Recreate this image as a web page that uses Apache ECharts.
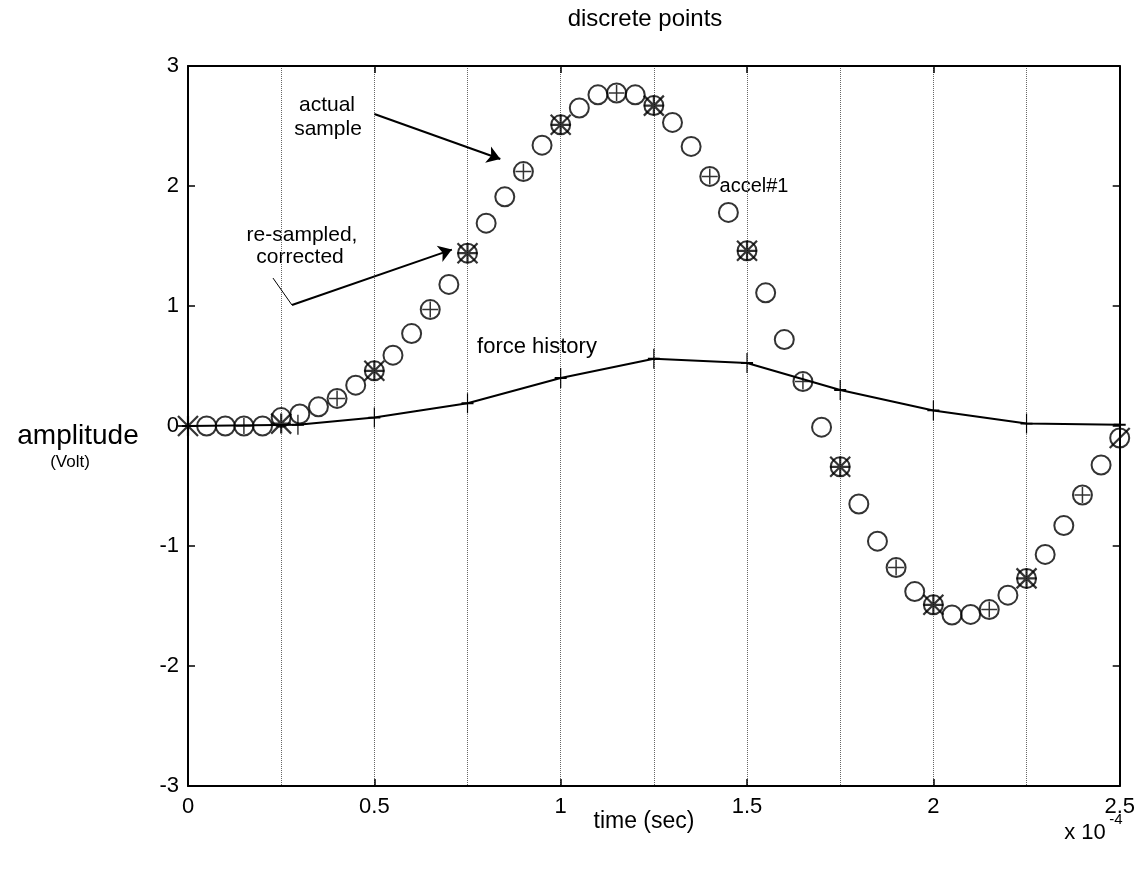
<!DOCTYPE html>
<html>
<head>
<meta charset="utf-8">
<script src="https://cdn.jsdelivr.net/npm/echarts@6/dist/echarts.min.js"></script>
<style>
  html, body { margin: 0; padding: 0; background: #fff; }
  #chart { width: 1138px; height: 873px; }
</style>
</head>
<body>
<div id="chart"></div>
<script>
// 时间单位: x 10^-4 s
const accelTime = [0.05, 0.10, 0.15, 0.20, 0.25, 0.30, 0.35, 0.40, 0.45, 0.50,
                   0.55, 0.60, 0.65, 0.70, 0.75, 0.80, 0.85, 0.90, 0.95, 1.00,
                   1.05, 1.10, 1.15, 1.20, 1.25, 1.30, 1.35, 1.40, 1.45, 1.50,
                   1.55, 1.60, 1.65, 1.70, 1.75, 1.80, 1.85, 1.90, 1.95, 2.00,
                   2.05, 2.10, 2.15, 2.20, 2.25, 2.30, 2.35, 2.40, 2.45, 2.50];
const accelValue = [0.00, 0.00, 0.00, 0.00, 0.07, 0.10, 0.16, 0.23, 0.34, 0.46,
                    0.59, 0.77, 0.97, 1.18, 1.44, 1.69, 1.91, 2.12, 2.34, 2.51,
                    2.65, 2.76, 2.775, 2.76, 2.67, 2.53, 2.33, 2.08, 1.78, 1.46,
                    1.11, 0.72, 0.37, -0.01, -0.34, -0.65, -0.96, -1.18, -1.38, -1.49,
                    -1.575, -1.57, -1.53, -1.41, -1.27, -1.07, -0.83, -0.575, -0.325, -0.10];

const actualTime = [0.15, 0.40, 0.65, 0.90, 1.15, 1.40, 1.65, 1.90, 2.15, 2.40];
const actualValue = [0.00, 0.23, 0.97, 2.12, 2.775, 2.08, 0.37, -1.18, -1.53, -0.575];

const resampTime = [0, 0.25, 0.50, 0.75, 1.00, 1.25, 1.50, 1.75, 2.00, 2.25, 2.50];
const resampValue = [0, 0.02, 0.46, 1.44, 2.51, 2.67, 1.46, -0.34, -1.49, -1.27, -0.10];

const forceTime = [0, 0.295, 0.50, 0.75, 1.00, 1.25, 1.50, 1.75, 2.00, 2.25, 2.50];
const forceValue = [0, 0.01, 0.07, 0.19, 0.40, 0.56, 0.525, 0.30, 0.13, 0.02, 0.01];

const xTicks = { min: 0, max: 2.5, step: 0.5 };
const yTicks = { min: -3, max: 3, step: 1 };

const zip = (xs, ys) => xs.map((x, i) => [x, ys[i]]);

const PLUS = 'path://M10,0 L10,20 M0,10 L20,10';
const STAR = 'path://M0,0 L20,20 M20,0 L0,20 M10,0 L10,20 M0,10 L20,10';
const SLASH = 'path://M20,0 L0,20';
const FONT = '"Liberation Sans", Arial, sans-serif';

const chart = echarts.init(document.getElementById('chart'));

const baseAxis = {
    axisLine: { show: true, onZero: false, lineStyle: { color: '#000', width: 2 } },
    axisTick: { show: true, inside: true, length: 7, lineStyle: { color: '#000', width: 1.5 } },
    splitLine: { show: false }
};

// 文字标注: 以中心点定位
function label(text, x, y, size, extra) {
    return {
        type: 'text', x: x, y: y, silent: true,
        style: Object.assign({
            text: text, fontSize: size, fontFamily: FONT, fill: '#000',
            align: 'center', verticalAlign: 'middle'
        }, extra || {})
    };
}

const resampData = zip(resampTime, resampValue).map((p, i, arr) =>
    i === arr.length - 1 ? { value: p, symbol: SLASH } : p);

chart.setOption({
    backgroundColor: '#fff',
    animation: false,
    grid: { left: 188, right: 17, top: 66, bottom: 87, containLabel: false },
    xAxis: [
        Object.assign({}, baseAxis, {
            type: 'value', position: 'bottom', min: xTicks.min, max: xTicks.max, interval: xTicks.step,
            axisLabel: { color: '#000', fontSize: 22, fontFamily: FONT, margin: 10 },
            splitLine: { show: true, lineStyle: { color: '#666', type: 'dotted', width: 1 } },
            minorTick: { show: false, splitNumber: 2 },
            minorSplitLine: { show: true, lineStyle: { color: '#666', type: 'dotted', width: 1 } }
        }),
        Object.assign({}, baseAxis, {
            type: 'value', position: 'top', min: xTicks.min, max: xTicks.max, interval: xTicks.step,
            axisLabel: { show: false }
        })
    ],
    yAxis: [
        Object.assign({}, baseAxis, {
            type: 'value', position: 'left', min: yTicks.min, max: yTicks.max, interval: yTicks.step,
            axisLabel: { color: '#000', fontSize: 22, fontFamily: FONT, margin: 9 }
        }),
        Object.assign({}, baseAxis, {
            type: 'value', position: 'right', min: yTicks.min, max: yTicks.max, interval: yTicks.step,
            axisLabel: { show: false }
        })
    ],
    series: [
        {
            name: 'force history', type: 'line', data: zip(forceTime, forceValue),
            symbol: PLUS, symbolSize: [12, 20], showSymbol: true,
            lineStyle: { color: '#000', width: 2 },
            itemStyle: { color: 'none', borderColor: '#000', borderWidth: 1.5 },
            markLine: {
                silent: true, symbol: ['none', 'arrow'], symbolSize: 13,
                label: { show: false },
                lineStyle: { color: '#000', width: 2, type: 'solid' },
                data: [
                    [{ coord: [0.50, 2.60] }, { coord: [0.838, 2.225] }],
                    [{ coord: [0.279, 1.008] }, { coord: [0.708, 1.47] }],
                    [{ coord: [0.228, 1.233], symbol: 'none', lineStyle: { width: 1 } },
                     { coord: [0.279, 1.008], symbol: 'none' }]
                ]
            },
            z: 3
        },
        {
            name: 'accel#1', type: 'scatter', data: zip(accelTime, accelValue),
            symbol: 'circle', symbolSize: 19,
            itemStyle: { color: 'transparent', borderColor: '#000', borderWidth: 2 },
            z: 4
        },
        {
            name: 'actual sample', type: 'scatter', data: zip(actualTime, actualValue),
            symbol: PLUS, symbolSize: 16,
            itemStyle: { color: 'none', borderColor: '#000', borderWidth: 1.5 },
            z: 5
        },
        {
            name: 're-sampled, corrected', type: 'scatter', data: resampData,
            symbol: STAR, symbolSize: 20,
            itemStyle: { color: 'none', borderColor: '#000', borderWidth: 2.2 },
            z: 5
        }
    ],
    graphic: [
        label('discrete points', 645, 19, 24),
        label('amplitude', 78, 436, 28),
        label('(Volt)', 70, 462, 17),
        label('actual', 327, 105, 21),
        label('sample', 328, 129, 21),
        label('re-sampled,', 302, 235, 21),
        label('corrected', 300, 257, 21),
        label('force history', 537, 347, 22),
        label('accel#1', 754, 186, 20),
        label('time (sec)', 644, 822, 23),
        label('x 10', 1085, 833, 22),
        label('-4', 1116, 820, 15)
    ]
});
</script>
</body>
</html>
